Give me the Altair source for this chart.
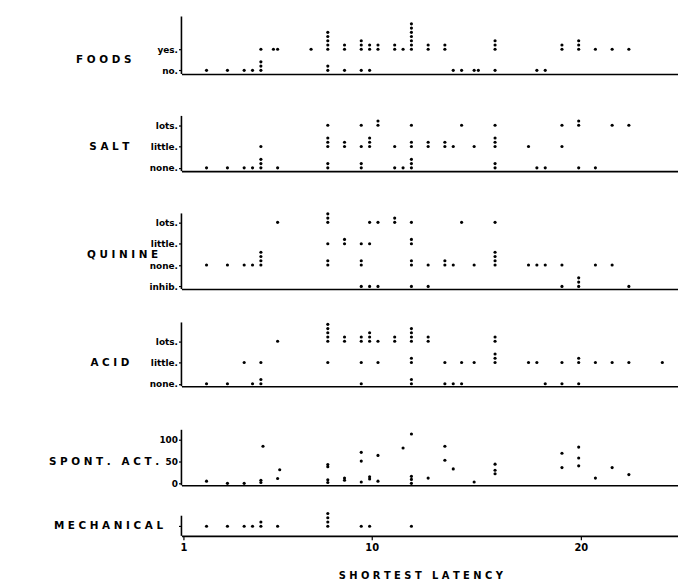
import altair as alt
import pandas as pd

# ---------------- data ----------------
FOODS_LABELS = ["no.", "yes."]
FOODS_X = [2.1, 3.1, 3.9, 4.3, 4.7, 7.9, 8.7, 9.5, 9.9, 13.9, 14.3, 14.9, 15.1, 15.9, 17.9, 18.3,
           4.7, 5.3, 5.5, 7.1, 7.9, 8.7, 9.5, 9.9, 10.3, 11.1, 11.5, 11.9, 12.7, 13.5, 15.9, 19.1, 19.9, 20.7, 21.5, 22.3]
FOODS_ROW = [0] * 16 + [1] * 20
FOODS_N = [1, 1, 1, 1, 3, 2, 1, 1, 1, 1, 1, 1, 1, 1, 1, 1,
           1, 1, 1, 1, 5, 2, 3, 2, 2, 2, 1, 7, 2, 2, 3, 2, 3, 1, 1, 1]

SALT_LABELS = ["none.", "little.", "lots."]
SALT_X = [2.1, 3.1, 3.9, 4.3, 4.7, 5.5, 7.9, 9.5, 11.1, 11.5, 11.9, 15.9, 17.9, 18.3, 19.9, 20.7,
          4.7, 7.9, 8.7, 9.5, 9.9, 11.1, 11.9, 12.7, 13.5, 13.9, 14.9, 15.9, 17.5, 19.1,
          7.9, 9.5, 10.3, 11.9, 14.3, 15.9, 19.1, 19.9, 21.5, 22.3]
SALT_ROW = [0] * 16 + [1] * 14 + [2] * 10
SALT_N = [1, 1, 1, 1, 3, 1, 2, 2, 1, 1, 3, 2, 1, 1, 1, 1,
          1, 3, 2, 1, 3, 1, 2, 2, 2, 1, 1, 3, 1, 1,
          1, 1, 2, 1, 1, 1, 1, 2, 1, 1]

QUININE_LABELS = ["inhib.", "none.", "little.", "lots."]
QUININE_X = [9.5, 9.9, 10.3, 11.9, 12.7, 19.1, 19.9, 22.3,
             2.1, 3.1, 3.9, 4.3, 4.7, 7.9, 9.5, 11.9, 12.7, 13.5, 13.9, 14.9, 15.9, 17.5, 17.9, 18.3, 19.1, 20.7, 21.5,
             7.9, 8.7, 9.5, 9.9, 11.9,
             5.5, 7.9, 9.9, 10.3, 11.1, 11.9, 14.3, 15.9]
QUININE_ROW = [0] * 8 + [1] * 19 + [2] * 5 + [3] * 8
QUININE_N = [1, 1, 1, 1, 1, 1, 3, 1,
             1, 1, 1, 1, 4, 2, 2, 2, 1, 2, 1, 1, 4, 1, 1, 1, 1, 1, 1,
             1, 2, 1, 1, 2,
             1, 3, 1, 1, 2, 1, 1, 1]

ACID_LABELS = ["none.", "little.", "lots."]
ACID_X = [2.1, 3.1, 4.3, 4.7, 9.5, 11.9, 13.5, 13.9, 14.3, 18.3, 19.1, 19.9,
          3.9, 4.7, 7.9, 9.5, 10.3, 11.9, 13.5, 14.3, 14.9, 15.9, 17.5, 17.9, 19.1, 19.9, 20.7, 21.5, 22.3, 23.9,
          5.5, 7.9, 8.7, 9.5, 9.9, 10.3, 11.1, 11.9, 12.7, 15.9]
ACID_ROW = [0] * 12 + [1] * 18 + [2] * 10
ACID_N = [1, 1, 1, 2, 1, 2, 1, 1, 1, 1, 1, 1,
          1, 1, 1, 1, 1, 2, 1, 1, 1, 3, 1, 1, 1, 2, 1, 1, 1, 1,
          1, 5, 2, 2, 3, 1, 2, 4, 2, 2]

SPONT_X = [4.8, 5.6, 7.9, 7.9, 9.5, 9.5, 10.3, 11.5, 11.9, 13.5, 13.5, 13.9, 15.9, 19.1, 19.1, 19.9, 19.9, 19.9, 21.5,
           2.1, 3.1, 3.9, 4.7, 4.7, 5.5, 7.9, 7.9, 8.7, 8.7, 9.5, 9.9, 9.9, 10.3, 11.9, 11.9, 11.9, 12.7, 14.9, 15.9, 15.9, 20.7, 22.3]
SPONT_Y = [85, 31, 43, 38, 71, 51, 64, 81, 113, 85, 53, 33, 44, 69, 36, 83, 58, 40, 36,
           5, 0, 0, 2, 7, 11, 2, 8, 7, 12, 3, 15, 10, 5, 0, 9, 16, 12, 3, 30, 22, 12, 20]
SPONT_TICKS = [0, 50, 100]

MECH_X = [2.1, 3.1, 3.9, 4.3, 4.7, 5.5, 7.9, 9.5, 9.9, 11.9]
MECH_N = [1, 1, 1, 1, 2, 1, 4, 1, 1, 1]

X_TICKS = [1, 10, 20]

# ---------------- layout / style ----------------
XDOM = [0.9, 24.65]
PLOT_LEFT = 182
PLOT_W = 501
STEP = 0.2  # vertical spacing of stacked dots, in row units
FONT = "DejaVu Sans"
GAP = "\u00a0\u00a0\u00a0"


def expand(xs, rows, ns):
    recs = []
    for x, r, n in zip(xs, rows, ns):
        for k in range(n):
            recs.append({"x": x, "y": r + k * STEP})
    return pd.DataFrame(recs)


def panel(df, T, B, p0, v0, p1, v1, axis_top, title, title_right, title_y, tick_vals,
          label_expr=None, show_labels=True, bottom=False, anchor=False):
    ppu = (p0 - p1) / (v1 - v0)
    vB = v0 - (B - p0) / ppu
    vT = v0 + (p0 - T) / ppu
    H = B - T
    if bottom:
        xaxis = alt.Axis(values=X_TICKS, format="d", grid=False, domain=True, ticks=True,
                         tickSize=4, labelFontSize=10, labelPadding=3,
                         title="S H O R T E S T" + GAP + "L A T E N C Y", titleFontSize=10,
                         titleAlign="center", titleBaseline="middle",
                         titleX=241, titleY=40)
    else:
        xaxis = alt.Axis(labels=False, ticks=False, grid=False, domain=True, title=None)
    yargs = dict(values=tick_vals, domain=False, grid=False, ticks=True, tickSize=3,
                 labels=show_labels, labelPadding=1,
                 title=title, titleAngle=0, titleAlign="right", titleBaseline="middle",
                 titleX=title_right - PLOT_LEFT, titleY=title_y - T)
    if label_expr:
        yargs["labelExpr"] = label_expr
    yaxis = alt.Axis(**yargs)
    pts = alt.Chart(df).mark_circle(size=10, color="black", opacity=1).encode(
        x=alt.X("x:Q", scale=alt.Scale(domain=XDOM, nice=False, zero=False), axis=xaxis),
        y=alt.Y("y:Q", scale=alt.Scale(domain=[vB, vT], nice=False, zero=False), axis=yaxis),
    )
    line = alt.Chart(alt.Data(values=[{}])).mark_rule(color="black", strokeWidth=1.6).encode(
        x=alt.value(0), y=alt.value(axis_top - T), y2=alt.value(H)
    )
    layers = [line, pts]
    if anchor:
        anc = alt.Chart(alt.Data(values=[{}])).mark_rule(color="white", strokeWidth=1).encode(
            x=alt.value(-174), y=alt.value(-5), y2=alt.value(0)
        )
        layers.append(anc)
    return alt.layer(*layers).properties(width=PLOT_W, height=H)


def lab(labels):
    return "[" + ",".join("'" + s + "'" for s in labels) + "][datum.value]"


foods = panel(expand(FOODS_X, FOODS_ROW, FOODS_N), 13, 71, 67.3, 0, 46, 1, 13,
              "F O O D S", 131, 56.5, [0, 1], lab(FOODS_LABELS), anchor=True)
salt = panel(expand(SALT_X, SALT_ROW, SALT_N), 71, 169, 165.7, 0, 122.7, 2, 113.3,
             "S A L T", 129, 144.3, [0, 1, 2], lab(SALT_LABELS))
quinine = panel(expand(QUININE_X, QUININE_ROW, QUININE_N), 169, 288, 285.3, 0, 220.7, 3, 211.7,
                "Q U I N I N E", 158, 253, [0, 1, 2, 3], lab(QUININE_LABELS))
acid = panel(expand(ACID_X, ACID_ROW, ACID_N), 288, 386, 383.5, 0, 340.7, 2, 321.7,
             "A C I D", 129, 361.7, [0, 1, 2], lab(ACID_LABELS))
spont = panel(pd.DataFrame({"x": SPONT_X, "y": SPONT_Y}), 386, 486, 484, 0, 440, 100, 430,
              "S P O N T ." + GAP + "A C T .", 159, 462, SPONT_TICKS)
mech = panel(expand(MECH_X, [0] * len(MECH_X), MECH_N), 486, 537, 527.3, 0, 505.9, 1, 516.7,
             "M E C H A N I C A L", 163, 527, [0], show_labels=False, bottom=True)

chart = alt.vconcat(foods, salt, quinine, acid, spont, mech, spacing=0, bounds="flush").properties(
    padding=0
).configure_view(stroke=None).configure_axis(
    labelFont=FONT, labelFontWeight="bold", labelFontSize=9, labelColor="black",
    titleFont=FONT, titleFontWeight="bold", titleFontSize=10.5, titleColor="black",
    domainColor="black", domainWidth=1.6, tickColor="black", tickWidth=1.2,
).resolve_scale(x="independent", y="independent")

chart.save("out.html", embed_options={"renderer": "svg", "actions": False})
